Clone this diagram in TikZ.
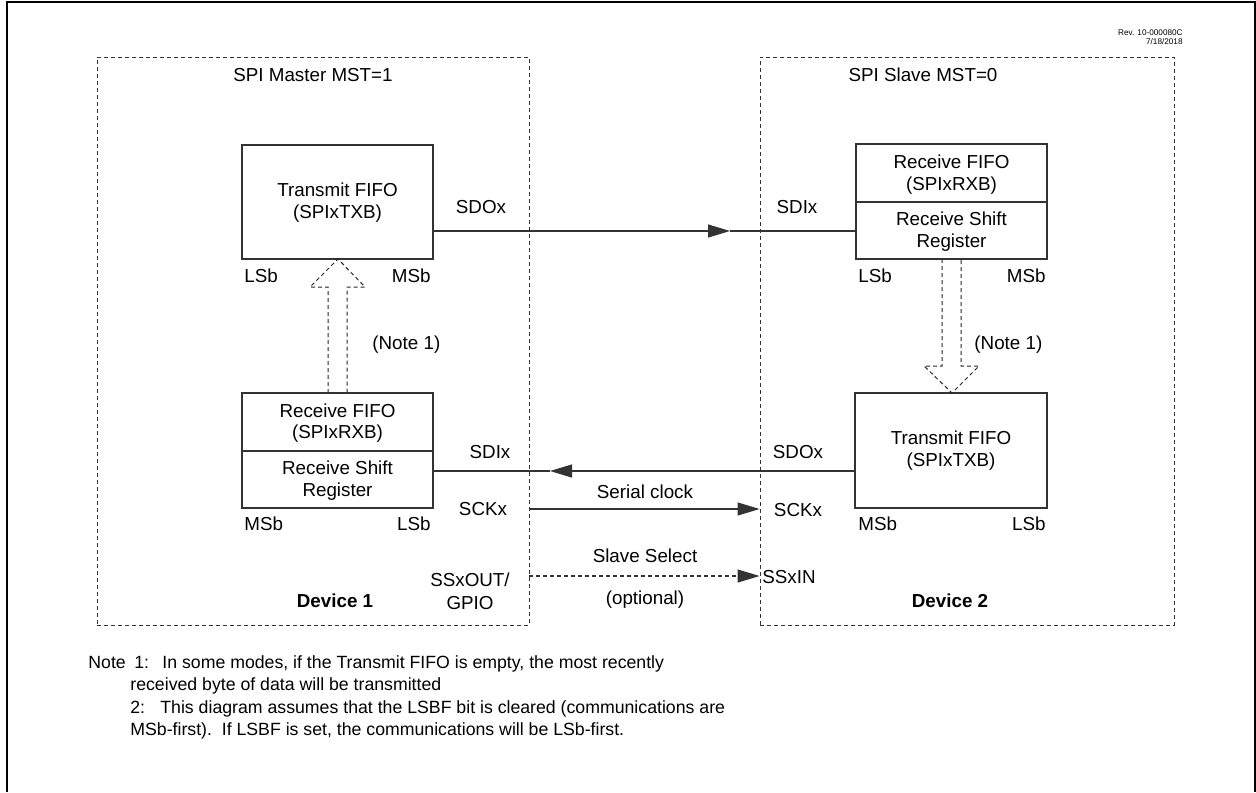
\documentclass[tikz,border=0pt]{standalone}
\usepackage{fontspec}
\setmainfont{Liberation Sans}
\usetikzlibrary{arrows.meta}
\tikzset{
  devbox/.style={draw=black!80, dashed, dash pattern=on 2pt off 1.5pt, line width=0.45pt},
  regbox/.style={draw=black!80, line width=0.6pt, inner sep=0pt},
  lbl/.style={font=\fontsize{9.4}{11}\selectfont, inner sep=0pt},
  note/.style={font=\fontsize{8.85}{10}\selectfont, inner sep=0pt, anchor=base west},
  sig/.style={draw=black!80, line width=0.6pt},
  tip/.style={-{Triangle[length=11pt,width=6.5pt]}},
  hollow/.style={draw=black!85, line width=0.5pt, dash pattern=on 2pt off 1.5pt},
}
\begin{document}
\begin{tikzpicture}[x=0.5pt,y=-0.5pt]
\useasboundingbox (0,0) rectangle (1256,792);
% outer frame
\draw[line width=1.3pt] (7,792) -- (7,2) -- (1255,2) -- (1255,792);
% revision
\node[font=\fontsize{4.1}{4.6}\selectfont, anchor=east, inner sep=0pt] (rev) at (1183,33) {Rev. 10-000080C};
\node[font=\fontsize{4.1}{4.6}\selectfont, anchor=east, inner sep=0pt] (date) at (1183,42) {7/18/2018};
% device boxes
\node[devbox, minimum width=216pt, minimum height=284pt] (dev1) at (313,341) {};
\node[devbox, minimum width=207pt, minimum height=284pt] (dev2) at (967,341) {};
\node[lbl] (mst1) at (313,75) {SPI Master MST=1};
\node[lbl] (mst0) at (923,75) {SPI Slave MST=0};
% registers
\node[regbox, minimum width=95.5pt, minimum height=57pt] (tx1) at (337.5,202) {};
\node[regbox, minimum width=95.5pt, minimum height=57.5pt] (rx2) at (951.5,201.5) {};
\node[regbox, minimum width=95.5pt, minimum height=57.5pt] (rx1) at (337.5,450.5) {};
\node[regbox, minimum width=96pt, minimum height=57.5pt] (tx2) at (951,450.5) {};
\draw[regbox] (rx2.west |- 0,202) -- (rx2.east |- 0,202);
\draw[regbox] (rx1.west |- 0,451) -- (rx1.east |- 0,451);
% register texts
\node[lbl] (t1a) at (337.5,190) {Transmit FIFO};
\node[lbl] (t1b) at (337.5,214) {(SPIxTXB)};
\node[lbl] (r2a) at (951.5,162) {Receive FIFO};
\node[lbl] (r2b) at (951.5,186) {(SPIxRXB)};
\node[lbl] (r2c) at (951.5,219) {Receive Shift};
\node[lbl] (r2d) at (951.5,243) {Register};
\node[lbl] (r1a) at (337.5,411) {Receive FIFO};
\node[lbl] (r1b) at (337.5,434) {(SPIxRXB)};
\node[lbl] (r1c) at (337.5,468) {Receive Shift};
\node[lbl] (r1d) at (337.5,492) {Register};
\node[lbl] (t2a) at (951,438) {Transmit FIFO};
\node[lbl] (t2b) at (951,462) {(SPIxTXB)};
% bit order labels
\node[lbl, anchor=west] (ls1) at (244,276) {LSb};
\node[lbl, anchor=east] (ms1) at (431,276) {MSb};
\node[lbl, anchor=west] (ls2) at (858,276) {LSb};
\node[lbl, anchor=east] (ms2) at (1046,276) {MSb};
\node[lbl, anchor=west] (ms3) at (244,524) {MSb};
\node[lbl, anchor=east] (ls3) at (431,524) {LSb};
\node[lbl, anchor=west] (ms4) at (858,524) {MSb};
\node[lbl, anchor=east] (ls4) at (1046,524) {LSb};
% hollow arrows
\draw[hollow] (328,393) -- (328,287) -- (310,287) -- (338,259) -- (365,287) -- (347,287) -- (347,393);
\draw[hollow] (942,259) -- (942,366) -- (924,366) -- (952,393) -- (979,366) -- (961,366) -- (961,259);
\node[lbl, anchor=west] (n1a) at (372,345) {(Note 1)};
\node[lbl, anchor=west] (n1b) at (974,345) {(Note 1)};
% signal labels
\node[lbl] (sdo1) at (481,207) {SDOx};
\node[lbl] (sdi2) at (797,207) {SDIx};
\node[lbl] (sdi1) at (490,452) {SDIx};
\node[lbl] (sdo2) at (798,452) {SDOx};
\node[lbl] (sck1) at (483,509) {SCKx};
\node[lbl] (sck2) at (798,510) {SCKx};
\node[lbl] (clk) at (645,492) {Serial clock};
\node[lbl] (ss) at (645,556) {Slave Select};
\node[lbl] (opt) at (645,600) {(optional)};
\node[lbl] (ssout) at (470,580) {SSxOUT/};
\node[lbl] (gpio) at (470,603) {GPIO};
\node[lbl, anchor=west] (ssin) at (762,577) {SSxIN};
\node[lbl, font=\fontsize{9.4}{11}\selectfont\bfseries] (d1) at (335,601) {Device 1};
\node[lbl, font=\fontsize{9.4}{11}\selectfont\bfseries] (d2) at (950,601) {Device 2};
% connectors
\coordinate (m1) at (730,231);
\coordinate (m2) at (550,471);
\coordinate (yck) at (0,509);
\coordinate (yss) at (0,576);
\draw[sig, tip] (tx1.east |- m1) -- (m1);
\draw[sig] (m1) -- (rx2.west |- m1);
\draw[sig, tip] (tx2.west |- m2) -- (m2);
\draw[sig] (m2) -- (rx1.east |- m2);
\draw[sig, tip] (dev1.east |- yck) -- (dev2.west |- yck);
\draw[sig, tip, dash pattern=on 2pt off 1.5pt] (dev1.east |- yss) -- (dev2.west |- yss);
% notes
\node[note] (nt) at (88,668) {Note};
\node[note] (nt1) at (134,668) {1:};
\node[note] (nl1) at (162,668) {In some modes, if the Transmit FIFO is empty, the most recently};
\node[note] (nl2) at (130,690) {received byte of data will be transmitted};
\node[note] (nt2) at (130,713) {2:};
\node[note] (nl3) at (160,713) {This diagram assumes that the LSBF bit is cleared (communications are};
\node[note] (nl4) at (130,735) {MSb-first).\ \ If LSBF is set, the communications will be LSb-first.};
\end{tikzpicture}
\end{document}
